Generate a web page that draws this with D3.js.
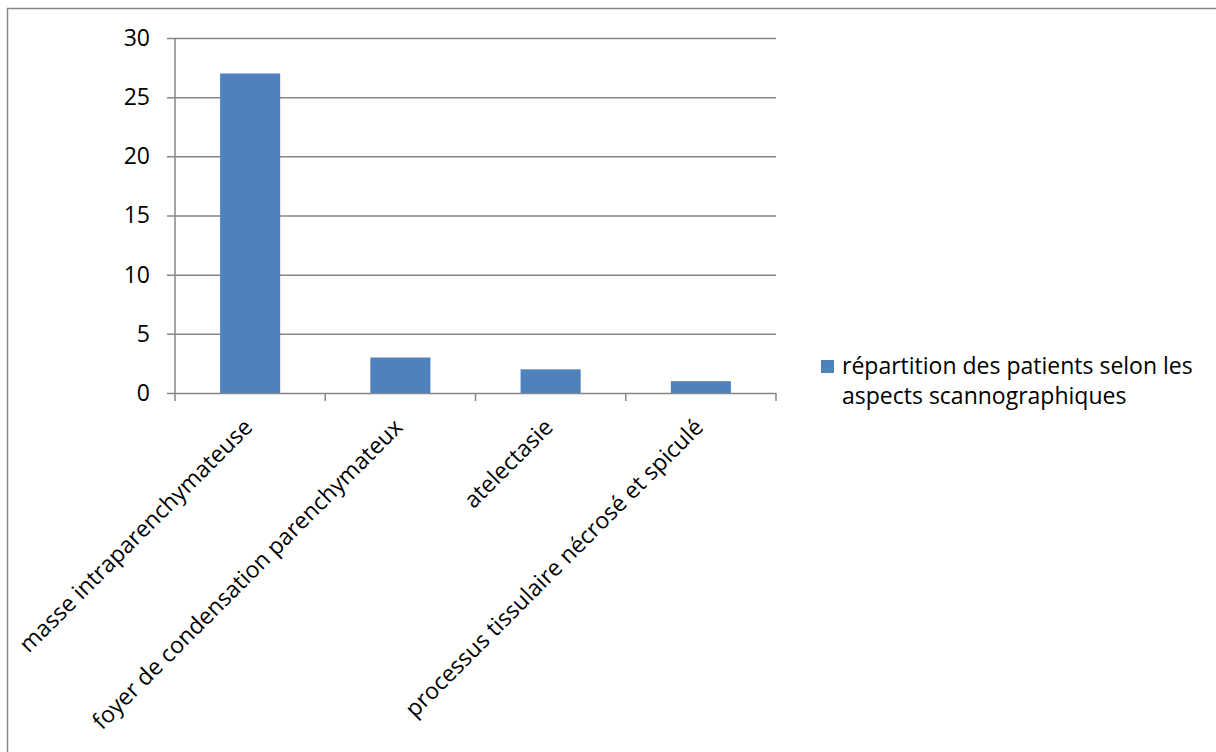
<!DOCTYPE html>
<html>
<head>
<meta charset="utf-8">
<script src="https://cdn.jsdelivr.net/npm/d3@7"></script>
<style>
  html, body { margin: 0; padding: 0; background: #fff; }
  svg text { font-family: "Open Sans", "Noto Sans", sans-serif; fill: #000; }
</style>
</head>
<body>
<svg id="chart" width="1216" height="752"></svg>
<script>
// Répartition des patients selon les aspects scannographiques
const categories = [
  "masse intraparenchymateuse",
  "foyer de condensation parenchymateux",
  "atelectasie",
  "processus tissulaire nécrosé et spiculé"
];
const patients = [27, 3, 2, 1];
const yTicks = [0, 5, 10, 15, 20, 25, 30];
const seriesName = ["répartition des patients selon les", "aspects scannographiques"];

const svg = d3.select("#chart");
const gridColor = "#868686";
const fontSize = 23;

// outer chart frame
svg.append("rect")
  .attr("x", 7.5).attr("y", 8.5)
  .attr("width", 1400).attr("height", 900)
  .attr("fill", "none").attr("stroke", gridColor).attr("stroke-width", 1.5);

const plot = { left: 175, right: 776, top: 38, bottom: 393 };

const x = d3.scaleBand().domain(categories).range([plot.left, plot.right]).padding(0);
const y = d3.scaleLinear().domain([0, 30]).range([plot.bottom, plot.top]);

// horizontal gridlines and left tick stubs
const yAxis = d3.axisLeft(y).tickValues(yTicks).tickSize(plot.right - plot.left + 8).tickPadding(17).tickFormat(d3.format("d"));
const gy = svg.append("g")
  .attr("transform", `translate(${plot.right},0)`)
  .call(yAxis);
gy.select(".domain").remove();
gy.selectAll(".tick line").attr("stroke", gridColor).attr("stroke-width", 1.5);
gy.selectAll(".tick text").attr("font-size", fontSize).attr("fill", "#000");

// vertical axis line
svg.append("line")
  .attr("x1", plot.left).attr("x2", plot.left)
  .attr("y1", plot.top).attr("y2", plot.bottom)
  .attr("stroke", gridColor).attr("stroke-width", 1.5);

// category boundary ticks under the baseline
const boundaries = categories.map(c => x(c)).concat([x(categories[categories.length - 1]) + x.bandwidth()]);
svg.append("g").selectAll("line").data(boundaries).join("line")
  .attr("x1", d => d).attr("x2", d => d)
  .attr("y1", plot.bottom).attr("y2", plot.bottom + 8)
  .attr("stroke", gridColor).attr("stroke-width", 1.5);

// bars
const barW = x.bandwidth() * 0.4;
svg.append("g").selectAll("rect").data(categories).join("rect")
  .attr("x", c => x(c) + (x.bandwidth() - barW) / 2)
  .attr("y", (c, i) => y(patients[i]))
  .attr("width", barW)
  .attr("height", (c, i) => y(0) - y(patients[i]))
  .attr("fill", "#4F81BD");

// rotated category labels
svg.append("g").selectAll("text").data(categories).join("text")
  .attr("transform", c => `translate(${x(c) + x.bandwidth() / 2 - 8},${plot.bottom + 24}) rotate(-45)`)
  .attr("text-anchor", "end")
  .attr("dy", "0.72em")
  .attr("font-size", fontSize)
  .text(c => c);

// legend
const lg = svg.append("g").attr("transform", "translate(821,360)");
lg.append("rect").attr("width", 13).attr("height", 13).attr("fill", "#4F81BD");
lg.selectAll("text").data(seriesName).join("text")
  .attr("x", 21).attr("y", (d, i) => 14 + i * 30)
  .attr("font-size", fontSize)
  .text(d => d);
</script>
</body>
</html>
